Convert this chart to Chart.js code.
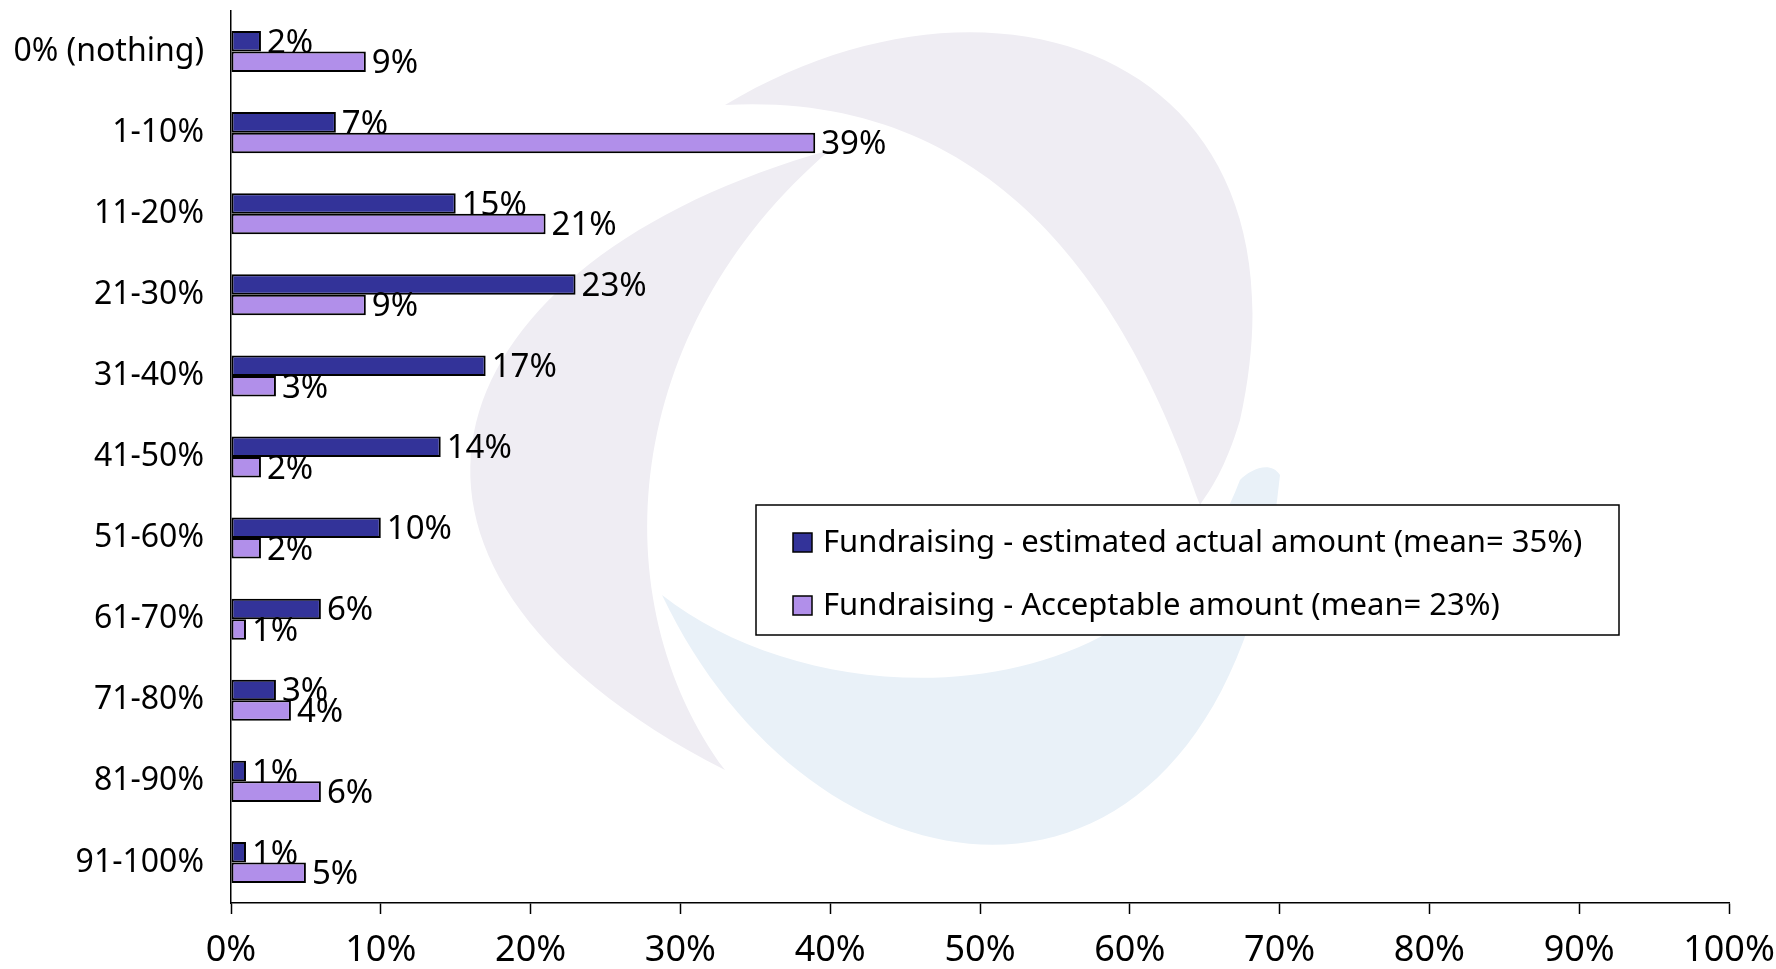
<!DOCTYPE html>
<html>
<head>
<meta charset="utf-8">
<script src="https://cdn.jsdelivr.net/npm/chart.js@4.4.0/dist/chart.umd.min.js"></script>
<style>
  html, body { margin: 0; padding: 0; background: #fff; }
  #wrap { width: 1776px; height: 969px; }
</style>
</head>
<body>
<div id="wrap"><canvas id="chart"></canvas></div>
<script>
const categories = ["0% (nothing)", "1-10%", "11-20%", "21-30%", "31-40%", "41-50%",
  "51-60%", "61-70%", "71-80%", "81-90%", "91-100%"];
const actualAmount = [2, 7, 15, 23, 17, 14, 10, 6, 3, 1, 1];
const acceptableAmount = [9, 39, 21, 9, 3, 2, 2, 1, 4, 6, 5];
const seriesNames = [
  "Fundraising - estimated actual amount (mean= 35%)",
  "Fundraising - Acceptable amount (mean= 23%)"
];
const xTicks = [0, 10, 20, 30, 40, 50, 60, 70, 80, 90, 100];

const fontFamily = "'Noto Sans', 'DejaVu Sans', sans-serif";

// faint logo in the background
const watermark = {
  id: "watermark",
  beforeDatasetsDraw(chart) {
    const ctx = chart.ctx;
    ctx.save();
    ctx.fillStyle = "#efedf3";
    // left crescent
    ctx.beginPath();
    ctx.moveTo(830, 150);
    ctx.bezierCurveTo(436, 260, 316, 560, 725, 770);
    ctx.bezierCurveTo(600, 600, 620, 330, 830, 150);
    ctx.fill();
    // top arc
    ctx.beginPath();
    ctx.moveTo(725, 105);
    ctx.bezierCurveTo(1000, -60, 1320, 60, 1240, 420);
    ctx.bezierCurveTo(1225, 470, 1210, 490, 1200, 505);
    ctx.bezierCurveTo(1130, 300, 1000, 90, 725, 105);
    ctx.fill();
    // bottom swoosh
    ctx.fillStyle = "#e9f1f8";
    ctx.beginPath();
    ctx.moveTo(662, 595);
    ctx.bezierCurveTo(820, 927, 1230, 967, 1280, 475);
    ctx.bezierCurveTo(1270, 460, 1250, 470, 1240, 480);
    ctx.bezierCurveTo(1150, 720, 820, 720, 662, 595);
    ctx.fill();
    ctx.restore();
  }
};

// value labels at the end of each bar
const valueLabels = {
  id: "valueLabels",
  afterDatasetsDraw(chart) {
    const ctx = chart.ctx;
    ctx.save();
    ctx.font = "33px " + fontFamily;
    ctx.fillStyle = "#000";
    ctx.textBaseline = "middle";
    ctx.textAlign = "left";
    chart.data.datasets.forEach((ds, i) => {
      chart.getDatasetMeta(i).data.forEach((bar, j) => {
        ctx.fillText(ds.data[j] + "%", bar.x + 6, bar.y + 2);
      });
    });
    ctx.restore();
  }
};

// boxed legend inside the plot
const boxLegend = {
  id: "boxLegend",
  afterDraw(chart) {
    const ctx = chart.ctx;
    const a = chart.chartArea;
    const left = a.left + 525, top = 505, w = 863, h = 130;
    ctx.save();
    ctx.fillStyle = "#fff";
    ctx.fillRect(left, top, w, h);
    ctx.strokeStyle = "#000";
    ctx.lineWidth = 1.5;
    ctx.strokeRect(left, top, w, h);
    ctx.font = "31px " + fontFamily;
    ctx.textBaseline = "middle";
    chart.data.datasets.forEach((ds, i) => {
      const y = top + 37 + i * 63;
      ctx.fillStyle = ds.backgroundColor;
      ctx.fillRect(left + 37, y - 9, 19, 19);
      ctx.strokeRect(left + 37, y - 9, 19, 19);
      ctx.fillStyle = "#000";
      ctx.fillText(ds.label, left + 67, y + 1);
    });
    ctx.restore();
  }
};

new Chart(document.getElementById("chart"), {
  type: "bar",
  data: {
    labels: categories,
    datasets: [
      {
        label: seriesNames[0],
        data: actualAmount,
        backgroundColor: "#333399",
        borderColor: "#000",
        borderWidth: 2,
        borderSkipped: false
      },
      {
        label: seriesNames[1],
        data: acceptableAmount,
        backgroundColor: "#b18fea",
        borderColor: "#000",
        borderWidth: 2,
        borderSkipped: false
      }
    ]
  },
  options: {
    indexAxis: "y",
    responsive: true,
    maintainAspectRatio: false,
    animation: false,
    categoryPercentage: 0.506,
    barPercentage: 1,
    layout: { padding: { left: 0, right: 47, top: 11, bottom: 0 } },
    plugins: {
      legend: { display: false },
      tooltip: { enabled: false }
    },
    scales: {
      x: {
        min: 0,
        max: 100,
        afterBuildTicks(scale) {
          scale.ticks = xTicks.map(v => ({ value: v }));
        },
        afterFit(scale) {
          scale.height = 66;
          scale.paddingLeft = 0;
          scale.paddingRight = 0;
        },
        grid: {
          drawOnChartArea: false,
          drawTicks: true,
          tickLength: 11,
          tickWidth: 1.5,
          tickColor: "#000"
        },
        border: { color: "#000", width: 1.5 },
        ticks: {
          padding: 15,
          color: "#000",
          font: { family: fontFamily, size: 36 },
          maxRotation: 0,
          callback: v => v + "%"
        }
      },
      y: {
        afterFit(scale) {
          scale.width = 231;
          scale.paddingTop = 0;
          scale.paddingBottom = 0;
        },
        grid: { display: false, drawTicks: false },
        border: { color: "#000", width: 1.5 },
        ticks: {
          padding: 27,
          color: "#000",
          font: { family: fontFamily, size: 32 }
        }
      }
    }
  },
  plugins: [watermark, valueLabels, boxLegend]
});
</script>
</body>
</html>
